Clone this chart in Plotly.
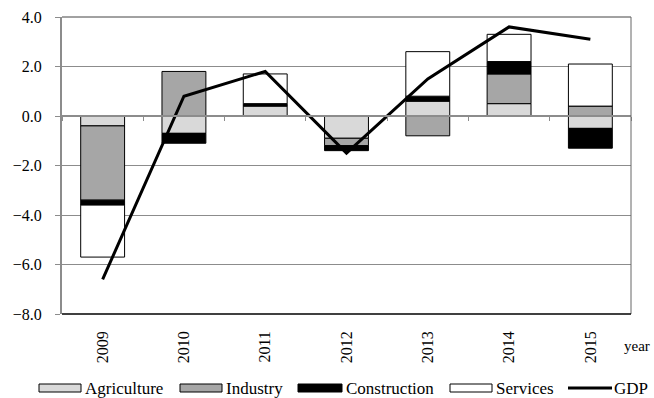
import plotly.graph_objects as go

years = ["2009", "2010", "2011", "2012", "2013", "2014", "2015"]
agriculture = [-0.4, -0.7, 0.4, -0.9, 0.6, 0.5, -0.5]
industry = [-3.0, 1.8, 0.0, -0.3, -0.8, 1.2, 0.4]
construction = [-0.2, -0.4, 0.1, -0.2, 0.2, 0.5, -0.8]
services = [-2.1, 0.0, 1.2, 0.0, 1.8, 1.1, 1.7]
gdp = [-6.6, 0.8, 1.8, -1.5, 1.5, 3.6, 3.1]
y_ticks = [4.0, 2.0, 0.0, -2.0, -4.0, -6.0, -8.0]

series = [
    ("Agriculture", agriculture, "#d9d9d9"),
    ("Industry", industry, "#a6a6a6"),
    ("Construction", construction, "#000000"),
    ("Services", services, "#ffffff"),
]

FONT = "Times New Roman, Liberation Serif, serif"
W, H = 654, 398
L, R, T, B = 62, 23, 17, 84
PW, PH = W - L - R, H - T - B


def px_x(p):
    return (p - L) / PW


def px_y(p):
    return (H - B - p) / PH


fig = go.Figure()
for name, vals, col in series:
    fig.add_trace(go.Bar(
        x=years, y=[v if v != 0 else None for v in vals], name=name,
        marker=dict(color=col, line=dict(color="#000000", width=1)),
        showlegend=False,
    ))

fig.add_trace(go.Scatter(
    x=years, y=gdp, name="GDP", mode="lines",
    line=dict(color="#000000", width=3), showlegend=False,
))
# transparent copy to host the zero-level category axis
fig.add_trace(go.Scatter(
    x=years, y=gdp, mode="lines", xaxis="x2", opacity=0,
    line=dict(color="rgba(0,0,0,0)"), showlegend=False, hoverinfo="skip",
))

ymin, ymax = min(y_ticks), max(y_ticks)
zero_pos = (0 - ymin) / (ymax - ymin)

fig.update_layout(
    width=W, height=H,
    margin=dict(l=L, r=R, t=T, b=B, autoexpand=False),
    paper_bgcolor="white", plot_bgcolor="white",
    barmode="relative", bargap=0.46,
    font=dict(family=FONT, size=15, color="#000000"),
    xaxis=dict(
        type="category", range=[-0.5, len(years) - 0.5], automargin=False,
        showgrid=False, showline=False, zeroline=False,
        ticks="", tickangle=-90, ticklabelstandoff=13,
        tickfont=dict(family=FONT, size=16, color="#000000"),
    ),
    xaxis2=dict(
        type="category", range=[-0.5, len(years) - 0.5], automargin=False,
        overlaying="x", anchor="free", position=zero_pos, side="bottom",
        showline=True, linecolor="#8c8c8c", linewidth=2,
        ticks="outside", tickson="boundaries", ticklen=4, tickwidth=1,
        tickcolor="#8c8c8c", showticklabels=False, showgrid=False,
        layer="above traces",
    ),
    yaxis=dict(
        range=[ymin, ymax], tickvals=y_ticks, tickformat=".1f", automargin=False,
        showgrid=True, gridcolor="#8c8c8c", gridwidth=1,
        zeroline=False, showline=True, linecolor="#8c8c8c", linewidth=2,
        ticks="outside", ticklen=5, tickcolor="#8c8c8c", tickwidth=1,
        ticklabelstandoff=10, tickfont=dict(family=FONT, size=16, color="#000000"),
    ),
)

# frame: top, right, bottom
fig.add_shape(type="line", xref="paper", yref="paper", x0=0, x1=1, y0=1, y1=1,
              line=dict(color="#444444", width=1))
fig.add_shape(type="line", xref="paper", yref="paper", x0=1, x1=1, y0=0, y1=1,
              line=dict(color="#666666", width=1))
fig.add_shape(type="line", xref="paper", yref="paper", x0=0, x1=1, y0=0, y1=0,
              line=dict(color="#000000", width=1.5))

fig.add_annotation(text="year", xref="paper", yref="paper",
                   x=px_x(652), y=px_y(346), xanchor="right", yanchor="middle",
                   showarrow=False, font=dict(family=FONT, size=15))

# custom legend
legend_pos = [(39, 81), (180, 222), (298, 342), (450, 492)]
ly0, ly1, lyc = 384, 392, 388
for (name, vals, col), (a, b) in zip(series, legend_pos):
    fig.add_shape(type="rect", xref="paper", yref="paper",
                  x0=px_x(a), x1=px_x(b), y0=px_y(ly1), y1=px_y(ly0),
                  fillcolor=col, line=dict(color="#000000", width=1))
    fig.add_annotation(text=name, xref="paper", yref="paper",
                       x=px_x(b + 2), y=px_y(lyc), xanchor="left", yanchor="middle",
                       showarrow=False, font=dict(family=FONT, size=17))
fig.add_shape(type="line", xref="paper", yref="paper",
              x0=px_x(568), x1=px_x(612), y0=px_y(lyc), y1=px_y(lyc),
              line=dict(color="#000000", width=3))
fig.add_annotation(text="GDP", xref="paper", yref="paper",
                   x=px_x(612), y=px_y(lyc), xanchor="left", yanchor="middle",
                   showarrow=False, font=dict(family=FONT, size=17))

fig.write_html("out.html")
